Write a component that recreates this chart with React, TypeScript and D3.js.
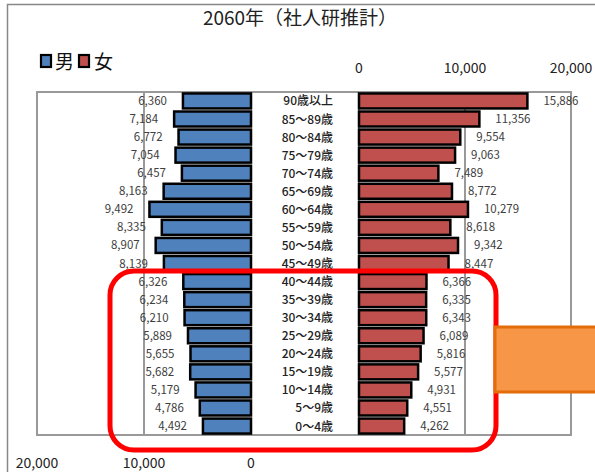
import React from "react";
import * as d3 from "d3";

const ages = [
  "90歳以上", "85～89歳", "80～84歳", "75～79歳", "70～74歳", "65～69歳",
  "60～64歳", "55～59歳", "50～54歳", "45～49歳", "40～44歳", "35～39歳",
  "30～34歳", "25～29歳", "20～24歳", "15～19歳", "10～14歳", "5～9歳", "0～4歳",
];
const male = [6360, 7184, 6772, 7054, 6457, 8163, 9492, 8335, 8907, 8139, 6326, 6234, 6210, 5889, 5655, 5682, 5179, 4786, 4492];
const female = [15886, 11356, 9554, 9063, 7489, 8772, 10279, 8618, 9342, 8447, 6366, 6335, 6343, 6089, 5816, 5577, 4931, 4551, 4262];
const ticks = [0, 10000, 20000];

const W = 595;
const H = 472;
const font = "'Noto Sans CJK JP', 'Noto Sans', sans-serif";
const fmt = d3.format(",");

export default function App() {
  const top = 92;
  const bottom = 435;
  const y = d3.scaleBand<string>().domain(ages).range([top, bottom]).paddingInner(0.17).paddingOuter(0.08);
  const xm = d3.scaleLinear().domain([0, 20000]).range([251, 37]);
  const xf = d3.scaleLinear().domain([0, 20000]).range([359, 571]);
  const bh = y.bandwidth();

  return (
    <svg width={W} height={H} style={{ position: "absolute", left: 0, top: 0, background: "#fff" }}>
      {/* outer frame */}
      <rect x={7.5} y={4.5} width={W} height={H} fill="none" stroke="#888" strokeWidth={1.5} />
      <text x={300} y={25} textAnchor="middle" fontFamily={font} fontSize={19} fill="#222">
        2060年（社人研推計）
      </text>

      {/* legend */}
      <rect x={41} y={55} width={10} height={12} fill="#4f81bd" stroke="#000" strokeWidth={2.2} />
      <text x={55} y={69} fontFamily={font} fontSize={19} fill="#111">男</text>
      <rect x={79} y={55} width={10} height={12} fill="#c0504d" stroke="#000" strokeWidth={2.2} />
      <text x={94} y={69} fontFamily={font} fontSize={19} fill="#111">女</text>

      {/* plot frame */}
      <rect x={37} y={top} width={571 - 37} height={bottom - top} fill="none" stroke="#999" strokeWidth={2} />
      {ticks.slice(1, 2).map(t => (
        <g key={t}>
          <line x1={xm(t)} x2={xm(t)} y1={top} y2={bottom} stroke="#999" strokeWidth={2} />
          <line x1={xf(t)} x2={xf(t)} y1={top} y2={bottom} stroke="#999" strokeWidth={2} />
        </g>
      ))}
      <line x1={xf(0)} x2={xf(0)} y1={top} y2={bottom} stroke="#999" strokeWidth={2} />

      {/* top axis (female) */}
      {ticks.map(t => (
        <text key={"f" + t} x={xf(t)} y={73} textAnchor="middle" fontFamily={font} fontSize={14} fill="#222">
          {fmt(t)}
        </text>
      ))}
      {/* bottom axis (male) */}
      {ticks.map(t => (
        <text key={"m" + t} x={xm(t)} y={468} textAnchor="middle" fontFamily={font} fontSize={14} fill="#222">
          {fmt(t)}
        </text>
      ))}

      {/* bars */}
      {ages.map((a, i) => {
        const yy = y(a) as number;
        return (
          <g key={a}>
            <rect x={xm(male[i])} y={yy} width={xm(0) - xm(male[i])} height={bh}
              fill="#4f81bd" stroke="#000" strokeWidth={2.5} />
            <rect x={xf(0)} y={yy} width={xf(female[i]) - xf(0)} height={bh}
              fill="#c0504d" stroke="#000" strokeWidth={2.5} />
            <text x={xm(male[i]) - 16} y={yy + bh / 2 + 4} textAnchor="end" fontFamily={font} fontSize={11.5} fill="#404040">
              {fmt(male[i])}
            </text>
            <text x={xf(female[i]) + 16} y={yy + bh / 2 + 4} textAnchor="start" fontFamily={font} fontSize={11.5} fill="#404040">
              {fmt(female[i])}
            </text>
            <text x={333} y={yy + bh / 2 + 4.5} textAnchor="end" fontFamily={font} fontSize={12} fontWeight={500} fill="#222">
              {a}
            </text>
          </g>
        );
      })}

      {/* highlight */}
      <rect x={110} y={271} width={386} height={179} rx={24} fill="none" stroke="#ff0000" strokeWidth={5} />
      <rect x={495} y={327} width={110} height={65} fill="#f79646" stroke="#e46c0a" strokeWidth={3} />
    </svg>
  );
}
